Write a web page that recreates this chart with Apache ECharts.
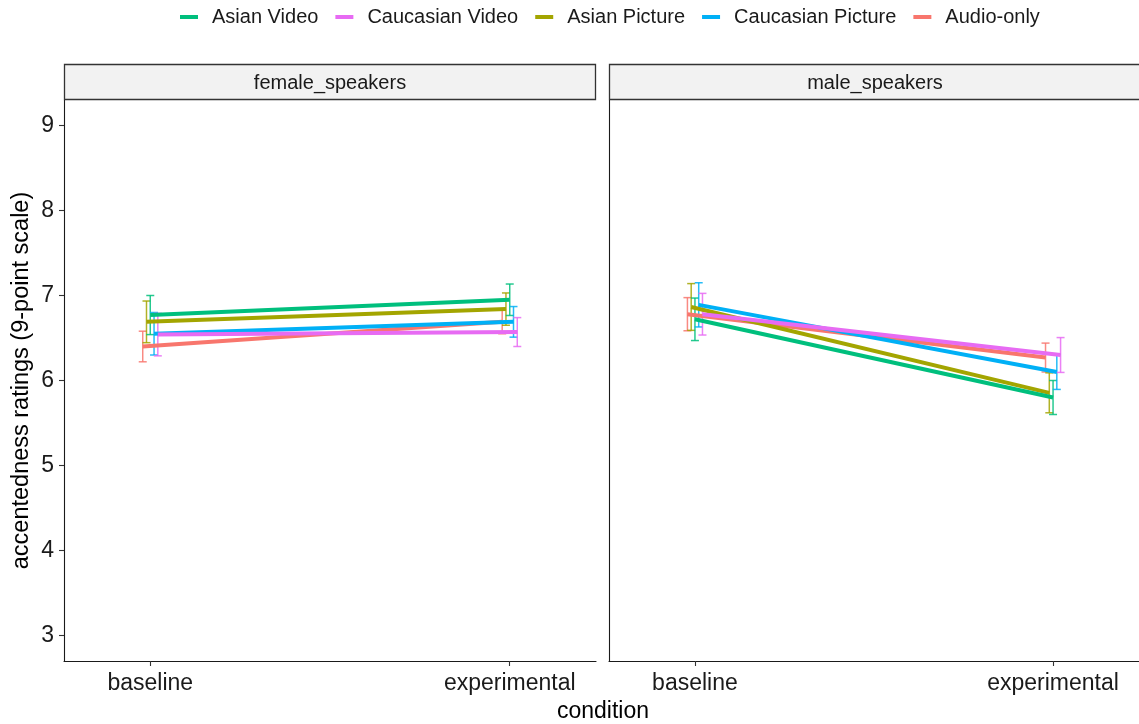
<!DOCTYPE html>
<html>
<head>
<meta charset="utf-8">
<script src="https://cdn.jsdelivr.net/npm/echarts@6/dist/echarts.min.js"></script>
<style>
html,body{margin:0;padding:0;background:#fff;}
#chart{width:1139px;height:724px;}
</style>
</head>
<body>
<div id="chart"></div>
<script>
// ---------- data ----------
var categories = ['baseline', 'experimental'];
var panels = ['female_speakers', 'male_speakers'];
// groups in drawing / dodge order
var groups = ['Audio-only', 'Asian Picture', 'Asian Video', 'Caucasian Picture', 'Caucasian Video'];
var legendOrder = ['Asian Video', 'Caucasian Video', 'Asian Picture', 'Caucasian Picture', 'Audio-only'];
var groupColors = ['#F8766D', '#A3A500', '#00BF7D', '#00B0F6', '#E76BF3'];

// means [baseline, experimental]
var femaleMeans = [
  [6.40, 6.69],
  [6.69, 6.84],
  [6.77, 6.95],
  [6.55, 6.69],
  [6.54, 6.57]
];
var femaleErr = [
  [0.18, 0.14],
  [0.245, 0.19],
  [0.23, 0.185],
  [0.25, 0.18],
  [0.25, 0.17]
];
var maleMeans = [
  [6.78, 6.27],
  [6.865, 5.855],
  [6.72, 5.80],
  [6.89, 6.10],
  [6.78, 6.30]
];
var maleErr = [
  [0.195, 0.17],
  [0.275, 0.235],
  [0.25, 0.20],
  [0.26, 0.205],
  [0.245, 0.205]
];
var yTicks = [3, 4, 5, 6, 7, 8, 9];

// ---------- build ----------
var dodgeStep = 0.0105;
var FONT = 'Liberation Sans, Arial, sans-serif';
var panelMeans = [femaleMeans, maleMeans];
var panelErr = [femaleErr, maleErr];

var series = [];
for (var p = 0; p < 2; p++) {
  for (var g = 0; g < groups.length; g++) {
    var off = (g - 2) * dodgeStep;
    var lineData = [];
    var errData = [];
    for (var c = 0; c < categories.length; c++) {
      var m = panelMeans[p][g][c], e = panelErr[p][g][c];
      lineData.push([c + off, m]);
      errData.push([c + off, m - e, m + e]);
    }
    series.push({
      type: 'custom',
      name: groups[g],
      xAxisIndex: p, yAxisIndex: p,
      data: errData,
      z: 2,
      itemStyle: {color: groupColors[g]},
      renderItem: (function (col) {
        return function (params, api) {
          var lo = api.coord([api.value(0), api.value(1)]);
          var hi = api.coord([api.value(0), api.value(2)]);
          var hw = 4;
          var st = {stroke: col, lineWidth: 1.5, opacity: 0.85};
          return {
            type: 'group',
            children: [
              {type: 'line', shape: {x1: lo[0], y1: lo[1], x2: hi[0], y2: hi[1]}, style: st},
              {type: 'line', shape: {x1: lo[0] - hw, y1: lo[1], x2: lo[0] + hw, y2: lo[1]}, style: st},
              {type: 'line', shape: {x1: hi[0] - hw, y1: hi[1], x2: hi[0] + hw, y2: hi[1]}, style: st}
            ]
          };
        };
      })(groupColors[g])
    });
    series.push({
      type: 'line',
      name: groups[g],
      xAxisIndex: p, yAxisIndex: p,
      data: lineData,
      showSymbol: false,
      symbol: 'none',
      z: 3,
      lineStyle: {color: groupColors[g], width: 4},
      itemStyle: {color: groupColors[g]},
      animation: false
    });
  }
}

function xAxisFor(idx) {
  return {
    type: 'value', gridIndex: idx, min: -0.24, max: 1.24,
    splitLine: {show: false},
    axisLine: {show: true, onZero: false, lineStyle: {color: '#1a1a1a', width: 1.1}},
    axisTick: {show: true, customValues: [0, 1], length: 5, lineStyle: {color: '#333', width: 1.1}},
    axisLabel: {
      customValues: [0, 1], margin: 11,
      fontFamily: FONT, fontSize: 23, color: '#1a1a1a',
      formatter: function (v) { return categories[Math.round(v)]; }
    }
  };
}

var option = {
  animation: false,
  backgroundColor: '#ffffff',
  legend: {
    data: legendOrder,
    top: 2, left: 175,
    icon: 'rect',
    itemWidth: 18, itemHeight: 4,
    itemGap: 17,
    textStyle: {fontFamily: FONT, fontSize: 20, color: '#1a1a1a', padding: [0, 0, 0, 9]}
  },
  grid: [
    {left: 64, top: 100, width: 532, height: 561, containLabel: false},
    {left: 609, top: 100, width: 532, height: 561, containLabel: false}
  ],
  xAxis: [xAxisFor(0), xAxisFor(1)],
  yAxis: [
    {
      type: 'value', gridIndex: 0, min: 2.7, max: 9.3,
      splitLine: {show: false},
      axisLine: {show: true, onZero: false, lineStyle: {color: '#1a1a1a', width: 1.1}},
      axisTick: {show: true, customValues: yTicks, length: 5, lineStyle: {color: '#333', width: 1.1}},
      axisLabel: {customValues: yTicks, margin: 10, fontFamily: FONT, fontSize: 23, color: '#1a1a1a'},
      name: 'accentedness ratings (9-point scale)',
      nameLocation: 'middle', nameGap: 30,
      nameTextStyle: {fontFamily: FONT, fontSize: 23.5, color: '#000'}
    },
    {
      type: 'value', gridIndex: 1, min: 2.7, max: 9.3,
      splitLine: {show: false},
      axisLine: {show: true, onZero: false, lineStyle: {color: '#1a1a1a', width: 1.1}},
      axisTick: {show: false},
      axisLabel: {show: false}
    }
  ],
  graphic: [
    {type: 'rect', shape: {x: 64.5, y: 64.5, width: 531, height: 35}, style: {fill: '#F2F2F2', stroke: '#333', lineWidth: 1.3}, z: 10},
    {type: 'rect', shape: {x: 609.5, y: 64.5, width: 531, height: 35}, style: {fill: '#F2F2F2', stroke: '#333', lineWidth: 1.3}, z: 10},
    {type: 'text', x: 330, y: 83, style: {text: panels[0], font: '20px ' + FONT, fill: '#1a1a1a', textAlign: 'center', textVerticalAlign: 'middle'}, z: 11},
    {type: 'text', x: 875, y: 83, style: {text: panels[1], font: '20px ' + FONT, fill: '#1a1a1a', textAlign: 'center', textVerticalAlign: 'middle'}, z: 11},
    {type: 'text', x: 603, y: 712, style: {text: 'condition', font: '23px ' + FONT, fill: '#000', textAlign: 'center', textVerticalAlign: 'middle'}, z: 11}
  ],
  series: series
};

var chart = echarts.init(document.getElementById('chart'), null, {renderer: 'canvas'});
chart.setOption(option);
</script>
</body>
</html>
